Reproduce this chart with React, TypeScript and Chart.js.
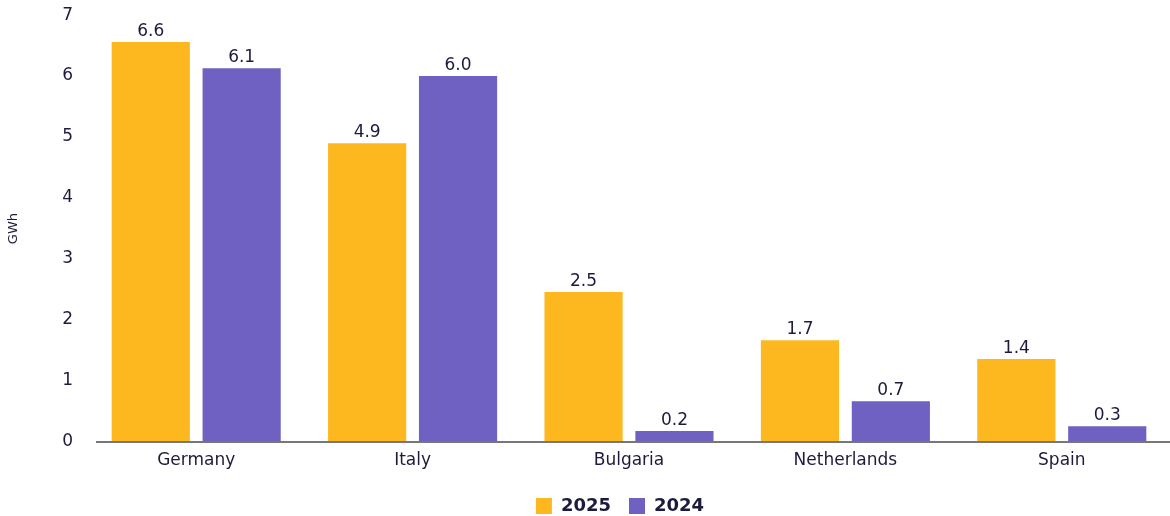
import React, { useEffect, useRef } from "react";
import { Chart, registerables } from "chart.js";

Chart.register(...registerables);

const categories = ["Germany", "Italy", "Bulgaria", "Netherlands", "Spain"];
const values2025 = [6.56, 4.9, 2.46, 1.67, 1.36];
const values2024 = [6.13, 6.0, 0.18, 0.67, 0.26];
const yTicks = [0, 1, 2, 3, 4, 5, 6, 7];

const TEXT = "#1d1b3d";
const FONT = "'DejaVu Sans', sans-serif";

const valueLabels = {
  id: "valueLabels",
  afterDatasetsDraw(chart: any) {
    const ctx = chart.ctx;
    ctx.save();
    ctx.fillStyle = TEXT;
    ctx.font = `17px ${FONT}`;
    ctx.textAlign = "center";
    ctx.textBaseline = "bottom";
    chart.data.datasets.forEach((ds: any, i: number) => {
      const meta = chart.getDatasetMeta(i);
      meta.data.forEach((bar: any, j: number) => {
        ctx.fillText(Number(ds.data[j]).toFixed(1), bar.x, bar.y - 2);
      });
    });
    ctx.restore();
  },
};

const baseLine = {
  id: "baseLine",
  afterDatasetsDraw(chart: any) {
    const ctx = chart.ctx;
    const y = chart.scales.y.getPixelForValue(0);
    ctx.save();
    ctx.strokeStyle = "#777777";
    ctx.lineWidth = 2;
    ctx.beginPath();
    ctx.moveTo(chart.chartArea.left + 8, y);
    ctx.lineTo(chart.chartArea.right, y);
    ctx.stroke();
    ctx.restore();
  },
};

const legendShift = {
  id: "legendShift",
  afterLayout(chart: any) {
    if (chart.legend) {
      chart.legend.left -= 9;
      chart.legend.right -= 9;
    }
  },
};

export default function App() {
  const ref = useRef<HTMLCanvasElement>(null);
  useEffect(() => {
    document.body.style.margin = "0";
    const chart = new Chart(ref.current!, {
      type: "bar",
      data: {
        labels: categories,
        datasets: [
          { label: "2025", data: values2025, backgroundColor: "#FDB71F" },
          { label: "2024", data: values2024, backgroundColor: "#6E61C1" },
        ],
      },
      options: {
        animation: false,
        responsive: false,
        maintainAspectRatio: false,
        layout: { padding: { top: 0, right: 0, left: 0, bottom: -9 } },
        datasets: { bar: { categoryPercentage: 0.84, barPercentage: 0.86 } },
        plugins: {
          tooltip: { enabled: false },
          legend: {
            position: "bottom",
            fullSize: false,
            labels: {
              boxWidth: 16,
              boxHeight: 16,
              padding: 18,
              color: TEXT,
              font: { family: FONT, size: 18, weight: "bold" },
            },
          },
        },
        scales: {
          x: {
            grid: { display: false, drawTicks: false },
            border: { display: false },
            ticks: {
              color: TEXT,
              font: { family: FONT, size: 17, lineHeight: 1.0 },
              padding: 10,
            },
          },
          y: {
            min: 0,
            max: 7,
            afterBuildTicks: (s: any) => {
              s.ticks = yTicks.map((v) => ({ value: v }));
            },
            afterFit: (s: any) => {
              s.width = 88;
            },
            grid: { display: false, drawTicks: false },
            border: { display: false },
            ticks: {
              color: TEXT,
              font: { family: FONT, size: 17, lineHeight: 0.01 },
              padding: 15,
            },
            title: {
              display: true,
              text: "GWh",
              color: TEXT,
              font: { family: FONT, size: 13 },
              padding: 6,
            },
          },
        },
      },
      plugins: [valueLabels, baseLine, legendShift],
    });
    return () => chart.destroy();
  }, []);
  return (
    <div style={{ width: 1170, height: 516 }}>
      <canvas ref={ref} width={1170} height={516} />
    </div>
  );
}
